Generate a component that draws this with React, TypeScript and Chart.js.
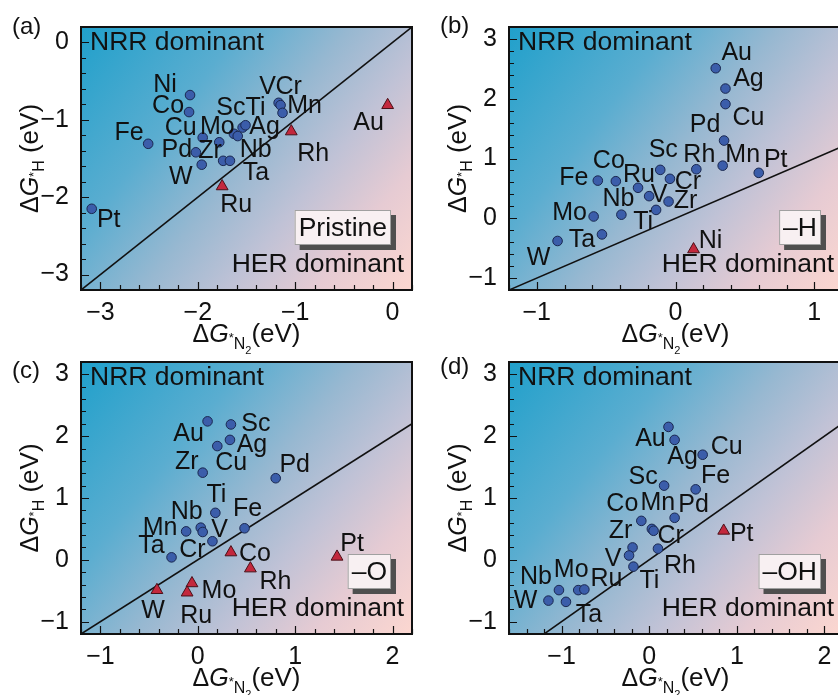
import React, { useEffect, useRef } from "react";
import { Chart, registerables } from "chart.js";

Chart.register(...registerables);

const FONT = "'Liberation Sans', Arial, Helvetica, sans-serif";

// ---------------- (a) Pristine ----------------
const pristineXRange = [-3.2, 0.2];
const pristineYRange = [-3.2, 0.2];
const pristineXTicks = [-3, -2, -1, 0];
const pristineYTicks = [-3, -2, -1, 0];
const pristineNrrNames = ["Ni", "Co", "Fe", "Cu", "Pd", "W", "Mo", "Zr", "Ta", "Sc", "Nb", "Ag", "Ti", "V", "Cr", "Mn", "Pt"];
const pristineNrrN2 = [-2.08, -2.09, -2.51, -1.95, -2.02, -1.96, -1.78, -1.74, -1.67, -1.63, -1.59, -1.54, -1.51, -1.17, -1.15, -1.13, -3.09];
const pristineNrrH = [-0.68, -0.9, -1.31, -1.23, -1.42, -1.58, -1.29, -1.53, -1.53, -1.18, -1.21, -1.1, -1.07, -0.78, -0.81, -0.91, -2.15];
const pristineHerNames = ["Ru", "Rh", "Au"];
const pristineHerN2 = [-1.75, -1.04, -0.05];
const pristineHerH = [-1.86, -1.15, -0.81];

// ---------------- (b) -H ----------------
const hXRange = [-1.2, 1.2];
const hYRange = [-1.2, 3.2];
const hXTicks = [-1, 0, 1];
const hYTicks = [-1, 0, 1, 2, 3];
const hNrrNames = ["Au", "Ag", "Cu", "Pd", "Mn", "Pt", "Rh", "Sc", "Cr", "Ru", "Co", "Fe", "V", "Zr", "Ti", "Nb", "Mo", "Ta", "W"];
const hNrrN2 = [0.29, 0.36, 0.36, 0.35, 0.34, 0.6, 0.15, -0.11, -0.04, -0.27, -0.43, -0.56, -0.19, -0.05, -0.14, -0.39, -0.59, -0.53, -0.85];
const hNrrH = [2.51, 2.17, 1.91, 1.3, 0.88, 0.76, 0.82, 0.81, 0.66, 0.51, 0.62, 0.63, 0.37, 0.28, 0.14, 0.06, 0.03, -0.27, -0.38];
const hHerNames = ["Ni"];
const hHerN2 = [0.13];
const hHerH = [-0.52];

// ---------------- (c) -O ----------------
const oXRange = [-1.2, 2.2];
const oYRange = [-1.2, 3.2];
const oXTicks = [-1, 0, 1, 2];
const oYTicks = [-1, 0, 1, 2, 3];
const oNrrNames = ["Au", "Sc", "Ag", "Cu", "Zr", "Pd", "Ti", "Fe", "Nb", "V", "Mn", "Cr", "Ta"];
const oNrrN2 = [0.1, 0.34, 0.33, 0.2, 0.05, 0.8, 0.18, 0.48, 0.03, 0.05, -0.12, 0.15, -0.27];
const oNrrH = [2.24, 2.19, 1.94, 1.84, 1.41, 1.32, 0.76, 0.51, 0.52, 0.45, 0.46, 0.3, 0.04];
const oHerNames = ["Co", "Rh", "Pt", "W", "Mo", "Ru"];
const oHerN2 = [0.34, 0.54, 1.43, -0.42, -0.06, -0.11];
const oHerH = [0.12, -0.14, 0.05, -0.49, -0.38, -0.53];

// ---------------- (d) -OH ----------------
const ohXRange = [-1.6, 2.2];
const ohYRange = [-1.2, 3.2];
const ohXTicks = [-1, 0, 1, 2];
const ohYTicks = [-1, 0, 1, 2, 3];
const ohNrrNames = ["Au", "Ag", "Cu", "Sc", "Fe", "Pd", "Co", "Mn", "Cr", "Zr", "V", "Rh", "Ti", "Nb", "Mo", "Ru", "W", "Ta"];
const ohNrrN2 = [0.22, 0.29, 0.61, 0.17, 0.53, 0.29, -0.09, 0.03, 0.05, -0.19, -0.23, 0.1, -0.18, -1.03, -0.81, -0.74, -1.15, -0.95];
const ohNrrH = [2.15, 1.94, 1.7, 1.2, 1.14, 0.68, 0.63, 0.5, 0.47, 0.2, 0.07, 0.18, -0.11, -0.49, -0.49, -0.48, -0.66, -0.68];
const ohHerNames = ["Pt"];
const ohHerN2 = [0.85];
const ohHerH = [0.47];

// ---------------- label placement (layout only, px offsets from the marker) ----------------
const pristineNrrLabelOffsets = [[-25, -10], [-21, -6], [-19, -11], [-22, -10], [-19, -2], [-21, 12], [-2, -15], [-13, -10], [26, 12], [-3, -26], [18, 14], [22, 0], [10, -17], [-11, -16], [8, -18], [22, -7], [17, 11]];
const pristineHerLabelOffsets = [[14, 19], [22, 23], [-19, 18]];
const hNrrLabelOffsets = [[21, -15], [23, -9], [23, 14], [-19, -15], [20, -11], [17, -13], [3, -14], [3, -20], [18, 3], [1, -13], [-7, -20], [-24, -3], [10, -1], [17, 0], [-13, 12], [-3, -16], [-24, -3], [-20, 6], [-19, 17]];
const hHerLabelOffsets = [[17, -8]];
const oNrrLabelOffsets = [[-19, 13], [25, 0], [22, 5], [14, 17], [-16, -11], [19, -13], [1, -18], [3, -19], [-14, -16], [17, -2], [-26, -3], [-20, 9], [-20, -11]];
const oHerLabelOffsets = [[24, 2], [25, 14], [15, -13], [-4, 21], [27, 8], [9, 24]];
const ohNrrLabelOffsets = [[-18, 12], [8, 17], [24, -8], [-21, -9], [20, -13], [19, -13], [-19, -17], [6, -26], [17, 5], [-12, -16], [-16, 4], [22, 17], [16, 14], [-23, -13], [-7, -20], [22, -10], [-23, 0], [23, 13]];
const ohHerLabelOffsets = [[18, 3]];

type PanelCfg = {
  letter: string;
  tag: string;
  xRange: number[];
  yRange: number[];
  xTicks: number[];
  yTicks: number[];
  nrrNames: string[];
  nrrX: number[];
  nrrY: number[];
  nrrOff: number[][];
  herNames: string[];
  herX: number[];
  herY: number[];
  herOff: number[][];
  box: { x: number; y: number; w: number; h: number };
  padTop: number;
  padRight: number;
  yAxisW: number;
  xAxisH: number;
  letterPos: number[];
};

const panels: PanelCfg[] = [
  {
    letter: "(a)", tag: "Pristine",
    xRange: pristineXRange, yRange: pristineYRange, xTicks: pristineXTicks, yTicks: pristineYTicks,
    nrrNames: pristineNrrNames, nrrX: pristineNrrN2, nrrY: pristineNrrH, nrrOff: pristineNrrLabelOffsets,
    herNames: pristineHerNames, herX: pristineHerN2, herY: pristineHerH, herOff: pristineHerLabelOffsets,
    box: { x: 0, y: 0, w: 420, h: 360 }, padTop: 20, padRight: 4, yAxisW: 81, xAxisH: 70, letterPos: [12, 27],
  },
  {
    letter: "(b)", tag: "\u2013H",
    xRange: hXRange, yRange: hYRange, xTicks: hXTicks, yTicks: hYTicks,
    nrrNames: hNrrNames, nrrX: hNrrN2, nrrY: hNrrH, nrrOff: hNrrLabelOffsets,
    herNames: hHerNames, herX: hHerN2, herY: hHerH, herOff: hHerLabelOffsets,
    box: { x: 420, y: 0, w: 430, h: 360 }, padTop: 19, padRight: 6, yAxisW: 89, xAxisH: 70, letterPos: [20, 26],
  },
  {
    letter: "(c)", tag: "\u2013O",
    xRange: oXRange, yRange: oYRange, xTicks: oXTicks, yTicks: oYTicks,
    nrrNames: oNrrNames, nrrX: oNrrN2, nrrY: oNrrH, nrrOff: oNrrLabelOffsets,
    herNames: oHerNames, herX: oHerN2, herY: oHerH, herOff: oHerLabelOffsets,
    box: { x: 0, y: 330, w: 420, h: 365 }, padTop: 32, padRight: 4, yAxisW: 81, xAxisH: 61, letterPos: [12, 41],
  },
  {
    letter: "(d)", tag: "\u2013OH",
    xRange: ohXRange, yRange: ohYRange, xTicks: ohXTicks, yTicks: ohYTicks,
    nrrNames: ohNrrNames, nrrX: ohNrrN2, nrrY: ohNrrH, nrrOff: ohNrrLabelOffsets,
    herNames: ohHerNames, herX: ohHerN2, herY: ohHerH, herOff: ohHerLabelOffsets,
    box: { x: 420, y: 330, w: 430, h: 365 }, padTop: 32, padRight: 6, yAxisW: 89, xAxisH: 61, letterPos: [20, 37],
  },
];

type Seg = { t: string; size: number; italic?: boolean; dy: number };

function drawRich(ctx: CanvasRenderingContext2D, segs: Seg[], cx: number, baseY: number) {
  const fontOf = (s: Seg) => `${s.italic ? "italic " : ""}${s.size}px ${FONT}`;
  const widths = segs.map((s) => {
    ctx.font = fontOf(s);
    return ctx.measureText(s.t).width;
  });
  const total = widths.reduce((a, b) => a + b, 0);
  let x = cx - total / 2;
  ctx.textAlign = "left";
  ctx.textBaseline = "alphabetic";
  segs.forEach((s, i) => {
    ctx.font = fontOf(s);
    ctx.fillText(s.t, x, baseY + s.dy);
    x += widths[i];
  });
}

const xTitle: Seg[] = [
  { t: "\u0394", size: 25, dy: 0 },
  { t: "G", size: 25, italic: true, dy: 0 },
  { t: "*", size: 13, dy: 0 },
  { t: "N", size: 16, dy: 7 },
  { t: "2", size: 11, dy: 12 },
  { t: "(eV)", size: 26, dy: 0 },
];
const yTitle: Seg[] = [
  { t: "\u0394", size: 25, dy: 0 },
  { t: "G", size: 25, italic: true, dy: 0 },
  { t: "*", size: 13, dy: 0 },
  { t: "H", size: 16, dy: 6 },
  { t: " (eV)", size: 26, dy: 0 },
];

const isInt = (v: number) => Math.abs(v - Math.round(v)) < 1e-6;
const fmt = (v: number) => {
  const r = Math.round(v);
  return r < 0 ? "\u2212" + Math.abs(r) : String(r);
};

function makeDecoPlugin(p: PanelCfg) {
  return {
    id: "deco",
    beforeDatasetsDraw(chart: any) {
      const { ctx, chartArea: a } = chart;
      const g = ctx.createLinearGradient(a.left, a.top, a.right, a.bottom);
      g.addColorStop(0, "#20a0cb");
      g.addColorStop(0.3, "#5aadd0");
      g.addColorStop(0.5, "#97b8d1");
      g.addColorStop(0.66, "#c0c2d6");
      g.addColorStop(0.82, "#e6cbd3");
      g.addColorStop(1, "#fcd7d0");
      ctx.save();
      ctx.fillStyle = g;
      ctx.fillRect(a.left, a.top, a.right - a.left, a.bottom - a.top);
      ctx.restore();
    },
    afterDatasetsDraw(chart: any) {
      const { ctx, chartArea: a, scales } = chart;
      const xs = scales.x;
      const ys = scales.y;
      ctx.save();
      ctx.fillStyle = "#111";
      // element labels
      ctx.font = `25px ${FONT}`;
      ctx.textAlign = "center";
      ctx.textBaseline = "middle";
      p.nrrNames.forEach((n, i) => {
        const px = xs.getPixelForValue(p.nrrX[i]) + p.nrrOff[i][0];
        const py = ys.getPixelForValue(p.nrrY[i]) + p.nrrOff[i][1];
        ctx.fillText(n, px, py);
      });
      p.herNames.forEach((n, i) => {
        const px = xs.getPixelForValue(p.herX[i]) + p.herOff[i][0];
        const py = ys.getPixelForValue(p.herY[i]) + p.herOff[i][1];
        ctx.fillText(n, px, py);
      });
      // region texts
      ctx.font = `26.5px ${FONT}`;
      ctx.textAlign = "left";
      ctx.fillText("NRR dominant", a.left + 9, a.top + 16);
      ctx.textAlign = "right";
      ctx.fillText("HER dominant", a.right - 8, a.bottom - 25);
      // tag box
      ctx.font = `26.5px ${FONT}`;
      const tw = ctx.measureText(p.tag).width;
      const bw = tw + 8;
      const bh = 35;
      const bx = a.right - 21 - bw;
      const by = a.bottom - 45 - bh;
      ctx.fillStyle = "#4f4f4f";
      ctx.fillRect(bx + 5, by + 5, bw, bh);
      ctx.fillStyle = "#f8f0f2";
      ctx.fillRect(bx, by, bw, bh);
      ctx.strokeStyle = "#a0a0a0";
      ctx.lineWidth = 1;
      ctx.strokeRect(bx + 0.5, by + 0.5, bw - 1, bh - 1);
      ctx.fillStyle = "#111";
      ctx.textAlign = "center";
      ctx.textBaseline = "middle";
      ctx.fillText(p.tag, bx + bw / 2, by + bh / 2 + 1);
      // inward ticks
      ctx.strokeStyle = "#111";
      ctx.lineWidth = 1.2;
      ctx.beginPath();
      xs.ticks.forEach((t: any) => {
        const v = t.value;
        const px = Math.round(xs.getPixelForValue(v)) + 0.5;
        const len = isInt(v) ? 8 : 5;
        ctx.moveTo(px, a.bottom);
        ctx.lineTo(px, a.bottom - len);
      });
      ys.ticks.forEach((t: any) => {
        const v = t.value;
        const py = Math.round(ys.getPixelForValue(v)) + 0.5;
        const len = isInt(v) ? 8 : 5;
        ctx.moveTo(a.left, py);
        ctx.lineTo(a.left + len, py);
      });
      ctx.stroke();
      // frame
      ctx.lineWidth = 2;
      ctx.strokeRect(a.left, a.top, a.right - a.left, a.bottom - a.top);
      // axis titles
      ctx.fillStyle = "#111";
      drawRich(ctx, xTitle, (a.left + a.right) / 2, a.bottom + 52);
      ctx.save();
      ctx.translate(a.left - 43, (a.top + a.bottom) / 2);
      ctx.rotate(-Math.PI / 2);
      drawRich(ctx, yTitle, 0, 0);
      ctx.restore();
      // panel letter
      ctx.font = `24px ${FONT}`;
      ctx.textAlign = "left";
      ctx.textBaseline = "middle";
      ctx.fillText(p.letter, p.letterPos[0], p.letterPos[1]);
      ctx.restore();
    },
  };
}

function Panel({ cfg }: { cfg: PanelCfg }) {
  const ref = useRef<HTMLCanvasElement>(null);
  useEffect(() => {
    const canvas = ref.current;
    if (!canvas) return;
    const lo = Math.min(cfg.xRange[0], cfg.yRange[0]);
    const hi = Math.max(cfg.xRange[1], cfg.yRange[1]);
    const chart = new Chart(canvas, {
      type: "scatter",
      data: {
        datasets: [
          {
            label: "NRR",
            data: cfg.nrrX.map((x, i) => ({ x, y: cfg.nrrY[i] })),
            pointStyle: "circle",
            pointRadius: 4.8,
            backgroundColor: "#3b5daa",
            borderColor: "#1a2850",
            borderWidth: 1,
            order: 0,
          },
          {
            label: "HER",
            data: cfg.herX.map((x, i) => ({ x, y: cfg.herY[i] })),
            pointStyle: "triangle",
            pointRadius: 6.8,
            backgroundColor: "#c3283d",
            borderColor: "#4a1018",
            borderWidth: 1,
            order: 0,
          },
          {
            label: "diag",
            data: [{ x: lo, y: lo }, { x: hi, y: hi }],
            showLine: true,
            pointRadius: 0,
            borderColor: "#111",
            borderWidth: 1.6,
            order: 2,
          },
        ],
      },
      options: {
        responsive: false,
        animation: false,
        devicePixelRatio: 1,
        events: [],
        layout: { padding: { left: 0, top: cfg.padTop, right: cfg.padRight, bottom: 0 } },
        plugins: { legend: { display: false }, tooltip: { enabled: false }, title: { display: false } },
        scales: {
          x: {
            type: "linear",
            min: cfg.xRange[0],
            max: cfg.xRange[1],
            grid: { display: false, drawTicks: false },
            border: { display: false },
            ticks: {
              stepSize: 0.2,
              autoSkip: false,
              maxRotation: 0,
              minRotation: 0,
              padding: 8,
              color: "#111",
              font: { family: FONT, size: 25 },
              callback: (v: any) => {
                const n = Number(v);
                return isInt(n) && cfg.xTicks.includes(Math.round(n)) ? fmt(n) : "";
              },
            },
            afterFit: (s: any) => {
              s.height = cfg.xAxisH;
            },
          },
          y: {
            type: "linear",
            min: cfg.yRange[0],
            max: cfg.yRange[1],
            grid: { display: false, drawTicks: false },
            border: { display: false },
            ticks: {
              stepSize: 0.2,
              autoSkip: false,
              padding: 12,
              color: "#111",
              font: { family: FONT, size: 25 },
              callback: (v: any) => {
                const n = Number(v);
                return isInt(n) && cfg.yTicks.includes(Math.round(n)) ? fmt(n) : "";
              },
            },
            afterFit: (s: any) => {
              s.width = cfg.yAxisW;
            },
          },
        },
      } as any,
      plugins: [makeDecoPlugin(cfg)],
    });
    return () => chart.destroy();
  }, [cfg]);
  return (
    <canvas
      ref={ref}
      width={cfg.box.w}
      height={cfg.box.h}
      style={{ position: "absolute", left: cfg.box.x, top: cfg.box.y, width: cfg.box.w, height: cfg.box.h }}
    />
  );
}

export default function App() {
  return (
    <div
      style={{
        position: "fixed",
        left: 0,
        top: 0,
        width: 838,
        height: 695,
        overflow: "hidden",
        background: "#fff",
      }}
    >
      {panels.map((p) => (
        <Panel key={p.letter} cfg={p} />
      ))}
    </div>
  );
}
